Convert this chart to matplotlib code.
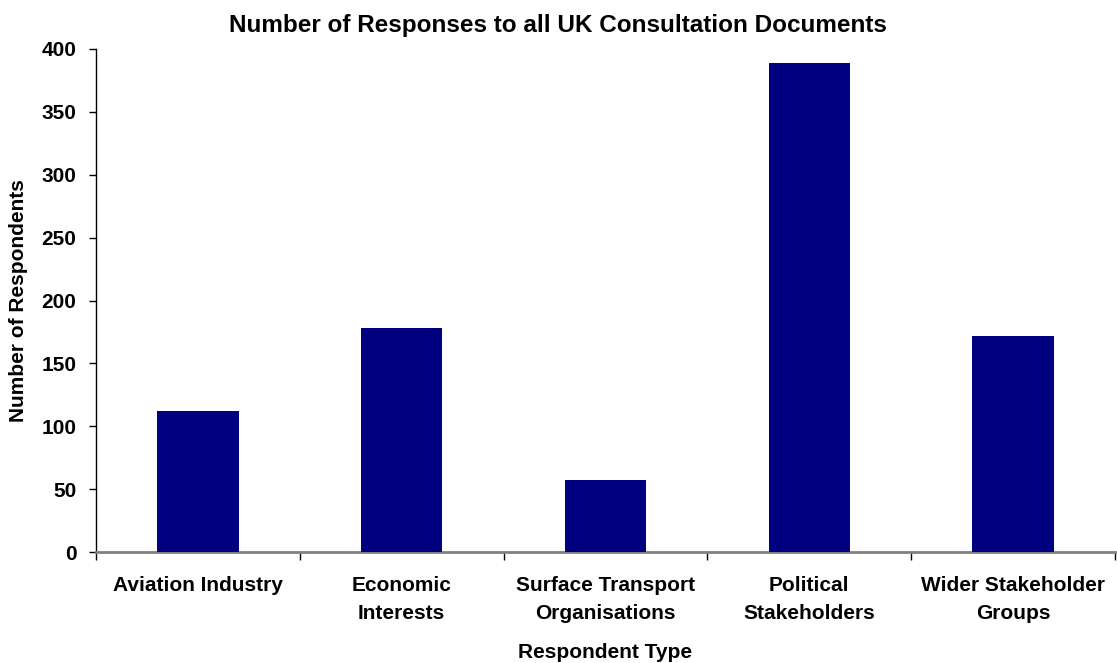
import matplotlib
matplotlib.use("Agg")
import matplotlib.pyplot as plt
import numpy as np
from matplotlib.ticker import FixedLocator

categories = ["Aviation Industry", "Economic\nInterests", "Surface Transport\nOrganisations",
              "Political\nStakeholders", "Wider Stakeholder\nGroups"]
values = [112, 178, 57, 389, 172]
y_ticks = [0, 50, 100, 150, 200, 250, 300, 350, 400]

plt.rcParams['font.family'] = ['Liberation Sans', 'DejaVu Sans']
plt.rcParams['font.weight'] = 'bold'

fig = plt.figure(figsize=(11.17, 6.63), dpi=100)
ax = fig.add_axes([96/1117, 111/663, 1019/1117, 503/663])

x = np.arange(len(categories))
ax.bar(x, values, width=0.40, color='#000080', zorder=3)

ax.set_xlim(-0.5, len(categories) - 0.5)
ax.set_ylim(0, 400)
ax.set_yticks(y_ticks)
ax.set_yticklabels([str(v) for v in y_ticks], fontsize=15, fontweight='bold')

ax.set_xticks(x)
ax.set_xticklabels(categories, fontsize=15, fontweight='bold', linespacing=1.65, va='top')
ax.tick_params(axis='x', which='major', length=0, pad=17)
ax.xaxis.set_minor_locator(FixedLocator(np.arange(-0.5, len(categories), 1.0)))
ax.tick_params(axis='x', which='minor', length=6, width=1, color='black', direction='out')
ax.tick_params(axis='y', length=5, width=1, direction='out', pad=9)

for s in ['top', 'right']:
    ax.spines[s].set_visible(False)
ax.spines['left'].set_color('black')
ax.spines['left'].set_linewidth(1)
ax.spines['bottom'].set_color('#808080')
ax.spines['bottom'].set_linewidth(2)

ax.set_title("Number of Responses to all UK Consultation Documents", fontsize=17.5,
             fontweight='bold', pad=12, x=0.453)
ax.set_xlabel("Respondent Type", fontsize=15, fontweight='bold', labelpad=14)
ax.set_ylabel("Number of Respondents", fontsize=15, fontweight='bold', labelpad=10)

fig.savefig("out.png", dpi=100)
